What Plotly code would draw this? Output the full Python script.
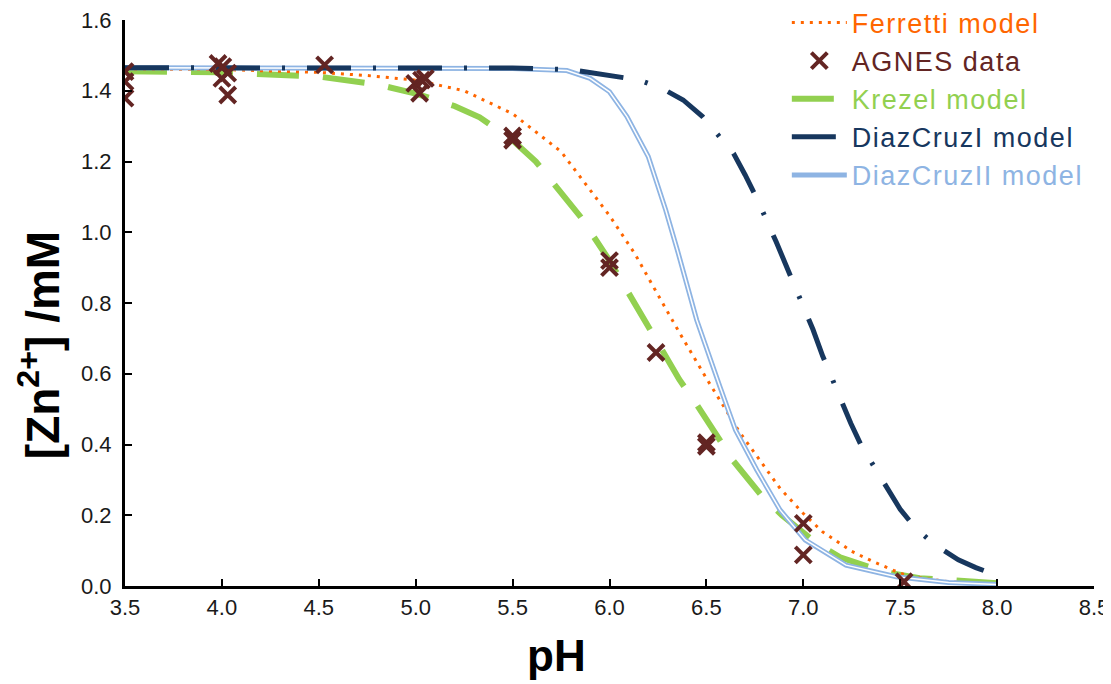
import plotly.graph_objects as go

# ---- data ----
ferretti_ph = [3.5, 4.0, 4.5, 4.75, 5.0, 5.25, 5.5, 5.75, 6.0, 6.13, 6.25, 6.36, 6.5, 6.67,
               6.88, 7.0, 7.1, 7.25, 7.36, 7.5, 7.56, 7.75, 8.0]
ferretti_zn = [1.462, 1.460, 1.452, 1.443, 1.430, 1.400, 1.335, 1.228, 1.047, 0.940, 0.823,
               0.717, 0.587, 0.436, 0.276, 0.205, 0.153, 0.098, 0.069, 0.036, 0.026, 0.012, 0.004]

krezel_ph = [3.5, 4.0, 4.5, 4.8, 5.0, 5.2, 5.33, 5.5, 5.62, 5.77, 5.85, 6.0, 6.17, 6.25, 6.36,
             6.44, 6.57, 6.64, 6.79, 6.89, 7.07, 7.19, 7.42, 7.6, 8.0]
krezel_zn = [1.455, 1.452, 1.440, 1.418, 1.392, 1.357, 1.325, 1.260, 1.200, 1.100, 1.044, 0.920,
             0.761, 0.690, 0.584, 0.521, 0.413, 0.353, 0.252, 0.200, 0.120, 0.081, 0.039, 0.022, 0.008]

dc1_ph = [3.5, 5.0, 5.5, 5.8, 5.9, 6.03, 6.155, 6.27, 6.38, 6.48, 6.64, 6.70, 6.76, 6.86, 6.96,
          7.05, 7.10, 7.15, 7.245, 7.30, 7.37, 7.50, 7.58, 7.68, 7.80, 7.89, 8.0]
dc1_zn = [1.465, 1.465, 1.464, 1.460, 1.452, 1.443, 1.430, 1.407, 1.374, 1.327, 1.223, 1.162,
          1.096, 0.973, 0.842, 0.725, 0.650, 0.582, 0.460, 0.396, 0.333, 0.217, 0.163, 0.116,
          0.074, 0.052, 0.030]

dc2_ph = [3.5, 4.0, 5.0, 5.5, 5.78, 5.9, 6.0, 6.09, 6.2, 6.29, 6.35, 6.45, 6.57, 6.65, 6.76,
          6.88, 7.01, 7.22, 7.48, 7.75, 8.0]
dc2_zn = [1.465, 1.465, 1.465, 1.463, 1.457, 1.435, 1.397, 1.327, 1.214, 1.063, 0.950, 0.752,
          0.563, 0.441, 0.328, 0.215, 0.130, 0.059, 0.026, 0.010, 0.004]

agnes_ph = [3.5, 3.5, 3.5, 3.98, 4.005, 4.03, 4.0, 4.03, 4.53, 4.995, 5.03, 5.02, 5.05,
            5.5, 5.5, 6.0, 6.0, 6.24, 6.5, 6.5, 7.0, 7.0, 7.52]
agnes_zn = [1.454, 1.426, 1.379, 1.477, 1.468, 1.450, 1.435, 1.388, 1.473, 1.421, 1.430, 1.393,
            1.435, 1.272, 1.260, 0.920, 0.900, 0.660, 0.405, 0.395, 0.177, 0.088, 0.012]

x_ticks = [3.5, 4.0, 4.5, 5.0, 5.5, 6.0, 6.5, 7.0, 7.5, 8.0, 8.5]
y_ticks = [0.0, 0.2, 0.4, 0.6, 0.8, 1.0, 1.2, 1.4, 1.6]

x_title = "<b>pH</b>"
y_title = "<b>[Zn<sup>2+</sup>] /mM</b>"

C_FER = "#FF6600"
C_AGN = "#632523"
C_KRE = "#92D050"
C_DC1 = "#17375E"
C_DC2 = "#8EB4E3"

def lab(txt, c):
    return f"<span style='color:{c};letter-spacing:1.5px'>{txt}</span>"

fig = go.Figure()

fig.add_trace(go.Scatter(x=krezel_ph, y=krezel_zn, mode="lines", name=lab("Krezel model", C_KRE),
                         line=dict(color=C_KRE, width=6, dash="42px,24px"), legendrank=3))
fig.add_trace(go.Scatter(x=ferretti_ph, y=ferretti_zn, mode="lines", name=lab("Ferretti model", C_FER),
                         line=dict(color=C_FER, width=3, dash="3px,6px"), legendrank=1))
fig.add_trace(go.Scatter(x=dc2_ph, y=dc2_zn, mode="lines", name=lab("DiazCruzII model", C_DC2),
                         line=dict(color=C_DC2, width=5), legendrank=5))
fig.add_trace(go.Scatter(x=dc2_ph, y=dc2_zn, mode="lines", showlegend=False, hoverinfo="skip",
                         line=dict(color="white", width=1.5)))
fig.add_trace(go.Scatter(x=dc1_ph, y=dc1_zn, mode="lines", name=lab("DiazCruzI model", C_DC1),
                         line=dict(color=C_DC1, width=5, dash="44px,22px,3px,22px"), legendrank=4))
fig.add_trace(go.Scatter(x=agnes_ph, y=agnes_zn, mode="markers", name=lab("AGNES data", C_AGN),
                         marker=dict(symbol="x-thin", size=16, color=C_AGN,
                                     line=dict(color=C_AGN, width=4)), legendrank=2))

fig.update_layout(
    width=1103, height=676,
    margin=dict(l=117, r=17, t=12, b=98, autoexpand=False),
    paper_bgcolor="white", plot_bgcolor="white",
    font=dict(family="Liberation Sans, Arial, sans-serif", size=22, color="#1a1a1a"),
    showlegend=True,
    legend=dict(x=0.683, y=1.038, xanchor="left", yanchor="top", bgcolor="rgba(0,0,0,0)",
                font=dict(size=27), itemwidth=55, tracegroupgap=0),
    annotations=[
        dict(text=x_title, xref="paper", yref="paper", x=0.445, y=-0.122,
             xanchor="center", yanchor="middle", showarrow=False,
             font=dict(size=44, color="black")),
        dict(text=y_title, xref="paper", yref="paper", x=-0.088, y=0.425,
             xanchor="center", yanchor="middle", showarrow=False, textangle=-90,
             font=dict(size=46, color="black")),
    ],
)
fig.update_xaxes(range=[3.5, 8.5], tickvals=x_ticks, ticktext=[f"{v:.1f}" for v in x_ticks],
                 showgrid=False, zeroline=False, showline=True, linecolor="black", linewidth=3,
                 ticks="inside", ticklen=7, tickwidth=2, tickcolor="black",
                 ticklabeloverflow="allow")
fig.update_yaxes(range=[0, 1.6], tickvals=y_ticks, ticktext=[f"{v:.1f}" for v in y_ticks],
                 showgrid=False, zeroline=False, showline=True, linecolor="black", linewidth=3,
                 ticks="inside", ticklen=7, tickwidth=2, tickcolor="black",
                 ticklabeloverflow="allow", ticklabelstandoff=6)

fig.write_html("out.html")
